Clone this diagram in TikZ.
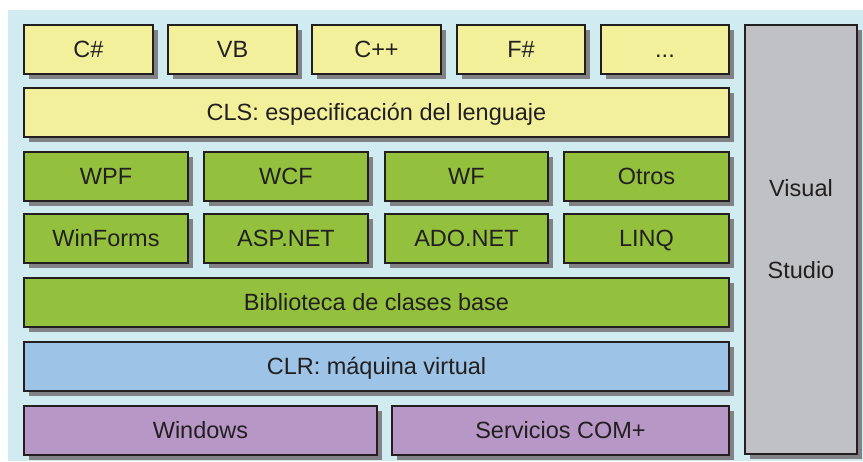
\documentclass[tikz,border=0pt]{standalone}
\usepackage{fontspec}
\setmainfont{Liberation Sans}
\usetikzlibrary{shadows}
\definecolor{fondo}{RGB}{208,236,240}
\definecolor{borde}{RGB}{35,31,32}
\definecolor{sombra}{RGB}{128,130,133}
\definecolor{amarillo}{RGB}{243,240,156}
\definecolor{verde}{RGB}{147,193,61}
\definecolor{azul}{RGB}{157,196,230}
\definecolor{morado}{RGB}{183,151,198}
\definecolor{gris}{RGB}{192,193,197}
\tikzset{
  capa/.style={draw=borde, line width=2pt, outer sep=0pt, inner sep=0pt,
    anchor=north west, text=borde, minimum height=49pt,
    text height=16.8pt, text depth=0pt,
    general shadow={fill=sombra, shadow xshift=5pt, shadow yshift=-5pt}},
  lenguaje/.style={capa, fill=amarillo},
  biblio/.style={capa, fill=verde},
  maquina/.style={capa, fill=azul},
  sistema/.style={capa, fill=morado},
  entorno/.style={capa, fill=gris}
}
\begin{document}
\begin{tikzpicture}[x=1pt, y=-1pt, font=\fontsize{23.5}{28}\selectfont]
    \useasboundingbox (0,0) rectangle (863,461);
    \fill [fondo] (8,10) rectangle (863,461);
    % lenguajes
    \node [lenguaje, minimum width=129pt] (cs) at (24,25) {C\#};
    \node [lenguaje, minimum width=129pt] (vb) at (168,25) {VB};
    \node [lenguaje, minimum width=129pt] (cpp) at (312,25) {C++};
    \node [lenguaje, minimum width=128pt] (fs) at (457,25) {F\#};
    \node [lenguaje, minimum width=128pt] (otroslen) at (601,25) {...};
    \node [lenguaje, minimum width=705pt] (cls) at (24,88) {CLS: especificación del lenguaje};
    % bibliotecas
    \node [biblio, minimum width=164pt] (wpf) at (24,152) {WPF};
    \node [biblio, minimum width=164pt] (wcf) at (204,152) {WCF};
    \node [biblio, minimum width=163pt] (wf) at (385,152) {WF};
    \node [biblio, minimum width=165pt] (otros) at (564,152) {Otros};
    \node [biblio, minimum width=164pt] (winforms) at (24,214) {WinForms};
    \node [biblio, minimum width=164pt] (asp) at (204,214) {ASP.NET};
    \node [biblio, minimum width=163pt] (ado) at (385,214) {ADO.NET};
    \node [biblio, minimum width=165pt] (linq) at (564,214) {LINQ};
    \node [biblio, minimum width=705pt] (bcl) at (24,278) {Biblioteca de clases base};
    % base
    \node [maquina, minimum width=705pt] (clr) at (24,342) {CLR: máquina virtual};
    \node [sistema, minimum width=353pt] (windows) at (24,406) {Windows};
    \node [sistema, minimum width=337pt] (com) at (392,406) {Servicios COM+};
    % Visual Studio
    \node [entorno, minimum width=112pt, minimum height=429pt] (vs) at (745,25) {};
    \node [text=borde] (visual) at (801,188) {Visual};
    \node [text=borde] (studio) at (801,270) {Studio};
\end{tikzpicture}
\end{document}
